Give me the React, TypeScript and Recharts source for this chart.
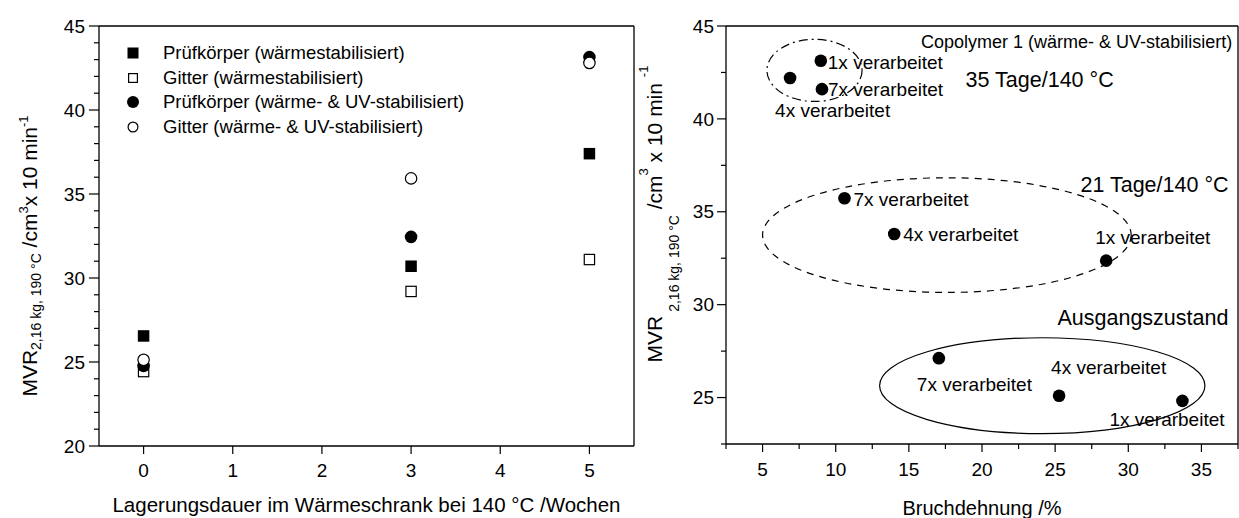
import React from 'react';
import { ScatterChart, Scatter, XAxis, YAxis, ReferenceLine, ReferenceArea, ReferenceDot, Legend } from 'recharts';

const FONT = '"Liberation Sans", Arial, Helvetica, sans-serif';

// left chart: MVR vs. storage time at 140 °C
const weeks = [0, 3, 5];
const pkWaerme = [26.55, 30.7, 37.4];
const gitterWaerme = [24.43, 29.2, 31.1];
const pkWaermeUV = [24.77, 32.45, 43.15];
const gitterWaermeUV = [25.13, 35.93, 42.8];
const leftNames = [
  'Prüfkörper (wärmestabilisiert)',
  'Gitter (wärmestabilisiert)',
  'Prüfkörper (wärme- & UV-stabilisiert)',
  'Gitter (wärme- & UV-stabilisiert)',
];
const leftXTicks = [0, 1, 2, 3, 4, 5];
const leftYTicks = [20, 21, 22, 23, 24, 25, 26, 27, 28, 29, 30, 31, 32, 33, 34, 35, 36, 37, 38, 39, 40, 41, 42, 43, 44, 45];

// right chart: MVR vs. elongation at break
const processing = ['1x verarbeitet', '4x verarbeitet', '7x verarbeitet'];
const dehnung35 = [8.98, 6.88, 9.06];
const mvr35 = [43.13, 42.2, 41.6];
const dehnung21 = [28.49, 14.0, 10.6];
const mvr21 = [32.37, 33.8, 35.73];
const dehnung0 = [33.7, 25.27, 17.05];
const mvr0 = [24.82, 25.1, 27.12];
const rightXTicks = [2.5, 5, 7.5, 10, 12.5, 15, 17.5, 20, 22.5, 25, 27.5, 30, 32.5, 35, 37.5];
const rightYTicks = [22.5, 25, 27.5, 30, 32.5, 35, 37.5, 40, 42.5, 45];

// label offsets (px) for 1x / 4x / 7x in each group
const offsets35 = [[7, 2], [-15, 32], [6, 0]];
const offsets21 = [[-11, -23], [9, 0], [9, 1]];
const offsets0 = [[-73, 18], [-8, -28], [-22, 26]];

type Kind = 'square' | 'squareOpen' | 'circle' | 'circleOpen';

const leftSeries: { name: string; values: number[]; kind: Kind; legendSize: number }[] = [
  { name: leftNames[0], values: pkWaerme, kind: 'square', legendSize: 11 },
  { name: leftNames[1], values: gitterWaerme, kind: 'squareOpen', legendSize: 10 },
  { name: leftNames[2], values: pkWaermeUV, kind: 'circle', legendSize: 12 },
  { name: leftNames[3], values: gitterWaermeUV, kind: 'circleOpen', legendSize: 11 },
];

const groups = [
  { key: 'd35', x: dehnung35, y: mvr35, offsets: offsets35, box: [5.3, 11.8, 40.94, 44.28], dash: '9 4 2 4' },
  { key: 'd21', x: dehnung21, y: mvr21, offsets: offsets21, box: [5.0, 30.2, 30.66, 36.83], dash: '7 6' },
  { key: 'd0', x: dehnung0, y: mvr0, offsets: offsets0, box: [13.0, 35.24, 23.06, 28.22], dash: undefined },
];

const notes = [
  { text: 'Copolymer 1 (wärme- & UV-stabilisiert)', x: 37.1, y: 44.16, anchor: 'end', size: 18 },
  { text: '35 Tage/140 °C', x: 18.88, y: 42.1, anchor: 'start', size: 21.5 },
  { text: '21 Tage/140 °C', x: 26.73, y: 36.47, anchor: 'start', size: 21.5 },
  { text: 'Ausgangszustand', x: 25.16, y: 29.32, anchor: 'start', size: 21.5 },
];

function Marker({ kind, cx, cy, size }: { kind: Kind; cx: number; cy: number; size: number }) {
  const h = size / 2;
  if (kind === 'square') return <rect x={cx - h} y={cy - h} width={size} height={size} fill="#000" />;
  if (kind === 'squareOpen')
    return <rect x={cx - h + 0.6} y={cy - h + 0.6} width={size - 1.2} height={size - 1.2} fill="#fff" stroke="#000" strokeWidth={1.2} />;
  if (kind === 'circle') return <circle cx={cx} cy={cy} r={h} fill="#000" />;
  return <circle cx={cx} cy={cy} r={h - 0.6} fill="#fff" stroke="#000" strokeWidth={1.2} />;
}

const isMajor = (v: number) => Math.abs(v / 5 - Math.round(v / 5)) < 1e-6;

function makeYTick(majorLen: number, minorLen: number, gap: number, fontSize: number) {
  return (p: any) => {
    const v = p.payload.value;
    const major = isMajor(v);
    const len = major ? majorLen : minorLen;
    return (
      <g>
        <line x1={p.x - len} x2={p.x} y1={p.y} y2={p.y} stroke="#000" strokeWidth={1.2} />
        {major && (
          <text x={p.x - majorLen - gap} y={p.y + fontSize * 0.35} textAnchor="end" fontFamily={FONT} fontSize={fontSize} fill="#000">
            {v}
          </text>
        )}
      </g>
    );
  };
}

function makeXTick(majorLen: number, minorLen: number, baseline: number, fontSize: number, allMajor: boolean) {
  return (p: any) => {
    const v = p.payload.value;
    const major = allMajor || isMajor(v);
    const len = major ? majorLen : minorLen;
    return (
      <g>
        <line x1={p.x} x2={p.x} y1={p.y} y2={p.y + len} stroke="#000" strokeWidth={1.2} />
        {major && (
          <text x={p.x} y={p.y + baseline} textAnchor="middle" fontFamily={FONT} fontSize={fontSize} fill="#000">
            {v}
          </text>
        )}
      </g>
    );
  };
}

function LeftLegend() {
  return (
    <div style={{ fontFamily: FONT, fontSize: 18.5, color: '#000' }}>
      {leftSeries.map((s) => (
        <div key={s.name} style={{ display: 'flex', alignItems: 'center', height: 24.5, whiteSpace: 'nowrap' }}>
          <svg width={14} height={14} style={{ marginRight: 23, flex: 'none' }}>
            <Marker kind={s.kind} cx={7} cy={7} size={s.legendSize} />
          </svg>
          <span>{s.name}</span>
        </div>
      ))}
    </div>
  );
}

function LeftYTitle() {
  const x = 37;
  const y = 256;
  return (
    <text transform={`rotate(-90 ${x} ${y})`} x={x} y={y} textAnchor="middle" fontFamily={FONT} fontSize={21} fill="#000">
      MVR
      <tspan fontSize={14} dy={4}>2,16 kg, 190 °C</tspan>
      <tspan dy={-4}> /cm</tspan>
      <tspan fontSize={13} dy={-9}>3</tspan>
      <tspan dy={9}>x 10 min</tspan>
      <tspan fontSize={13} dy={-9}>-1</tspan>
    </text>
  );
}

function RightYTitle() {
  const x = 42;
  const y = 214;
  return (
    <text transform={`rotate(-90 ${x} ${y})`} x={x} y={y} textAnchor="middle" fontFamily={FONT} fontSize={21} fill="#000">
      MVR
      <tspan fontSize={14} dy={17}> 2,16 kg, 190 °C</tspan>
      <tspan dy={-17}>  /cm</tspan>
      <tspan fontSize={13} dy={-14}>3</tspan>
      <tspan dy={14}> x 10 min </tspan>
      <tspan fontSize={13} dy={-14}>-1</tspan>
    </text>
  );
}

function LeftChart() {
  return (
    <ScatterChart width={640} height={518} margin={{ top: 26, right: 6, bottom: 0, left: 0 }} style={{ fontFamily: FONT }}>
      <XAxis
        type="number"
        dataKey="x"
        domain={[-0.5, 5.5]}
        ticks={leftXTicks}
        interval={0}
        height={72}
        tickSize={0}
        tickMargin={0}
        tickLine={false}
        axisLine={{ stroke: '#000', strokeWidth: 1.3 }}
        tick={makeXTick(8, 8, 31, 19, true)}
        label={() => (
          <text x={366.5} y={512} textAnchor="middle" fontFamily={FONT} fontSize={20.5} fill="#000">
            Lagerungsdauer im Wärmeschrank bei 140 °C /Wochen
          </text>
        )}
        allowDataOverflow
      />
      <YAxis
        type="number"
        dataKey="y"
        domain={[20, 45]}
        ticks={leftYTicks}
        interval={0}
        width={99}
        tickSize={0}
        tickMargin={0}
        tickLine={false}
        axisLine={{ stroke: '#000', strokeWidth: 1.3 }}
        tick={makeYTick(10, 5, 4, 19)}
        label={() => <LeftYTitle />}
        allowDataOverflow
      />
      <ReferenceLine y={45} stroke="#000" strokeWidth={1.3} />
      <ReferenceLine x={5.5} stroke="#000" strokeWidth={1.3} />
      <Legend
        layout="vertical"
        align="center"
        verticalAlign="middle"
        content={() => <LeftLegend />}
        wrapperStyle={{ left: 126, top: 40.75, width: 'auto' }}
      />
      {leftSeries.map((s) => (
        <Scatter
          key={s.name}
          name={s.name}
          data={weeks.map((w, i) => ({ x: w, y: s.values[i] }))}
          isAnimationActive={false}
          shape={(p: any) => <Marker kind={s.kind} cx={p.cx} cy={p.cy} size={s.kind.startsWith('circle') ? 12.6 : 11.5} />}
        />
      ))}
    </ScatterChart>
  );
}

function RightChart() {
  return (
    <ScatterChart width={619} height={518} margin={{ top: 26, right: 1, bottom: 0, left: 0 }} style={{ fontFamily: FONT }}>
      <XAxis
        type="number"
        dataKey="x"
        domain={[2.5, 37.5]}
        ticks={rightXTicks}
        interval={0}
        height={74}
        tickSize={0}
        tickMargin={0}
        tickLine={false}
        axisLine={{ stroke: '#000', strokeWidth: 1.3 }}
        tick={makeXTick(8, 5, 32, 19, false)}
        label={() => (
          <text x={362} y={515} textAnchor="middle" fontFamily={FONT} fontSize={20} fill="#000">
            Bruchdehnung /%
          </text>
        )}
        allowDataOverflow
      />
      <YAxis
        type="number"
        dataKey="y"
        domain={[22.5, 45]}
        ticks={rightYTicks}
        interval={0}
        width={106}
        tickSize={0}
        tickMargin={0}
        tickLine={false}
        axisLine={{ stroke: '#000', strokeWidth: 1.3 }}
        tick={makeYTick(9, 5, 3, 19)}
        label={() => <RightYTitle />}
        allowDataOverflow
      />
      <ReferenceLine y={45} stroke="#000" strokeWidth={1.3} />
      <ReferenceLine x={37.5} stroke="#000" strokeWidth={1.3} />
      {groups.map((g) => (
        <ReferenceArea
          key={`e-${g.key}`}
          x1={g.box[0]}
          x2={g.box[1]}
          y1={g.box[2]}
          y2={g.box[3]}
          ifOverflow="visible"
          shape={(p: any) => (
            <ellipse
              cx={p.x + p.width / 2}
              cy={p.y + p.height / 2}
              rx={Math.abs(p.width) / 2}
              ry={Math.abs(p.height) / 2}
              fill="none"
              stroke="#000"
              strokeWidth={1.2}
              strokeDasharray={g.dash}
            />
          )}
        />
      ))}
      {notes.map((n) => (
        <ReferenceDot
          key={n.text}
          x={n.x}
          y={n.y}
          r={0}
          ifOverflow="visible"
          shape={(p: any) => (
            <text x={p.cx} y={p.cy + n.size * 0.35} textAnchor={n.anchor as any} fontFamily={FONT} fontSize={n.size} fill="#000">
              {n.text}
            </text>
          )}
        />
      ))}
      {groups.map((g) => (
        <Scatter
          key={g.key}
          name={g.key}
          data={g.x.map((xv, i) => ({ x: xv, y: g.y[i], label: processing[i], dx: g.offsets[i][0], dy: g.offsets[i][1] }))}
          isAnimationActive={false}
          shape={(p: any) => (
            <g>
              <circle cx={p.cx} cy={p.cy} r={6.3} fill="#000" />
              <text
                x={p.cx + p.payload.dx}
                y={p.cy + p.payload.dy + 19 * 0.35}
                fontFamily={FONT}
                fontSize={19}
                fill="#000"
              >
                {p.payload.label}
              </text>
            </g>
          )}
        />
      ))}
    </ScatterChart>
  );
}

export default function App() {
  return (
    <div style={{ position: 'absolute', left: 0, top: 0, width: 1239, height: 518, background: '#fff' }}>
      <div style={{ position: 'absolute', left: 0, top: 0 }}>
        <LeftChart />
      </div>
      <div style={{ position: 'absolute', left: 620, top: 0 }}>
        <RightChart />
      </div>
    </div>
  );
}
